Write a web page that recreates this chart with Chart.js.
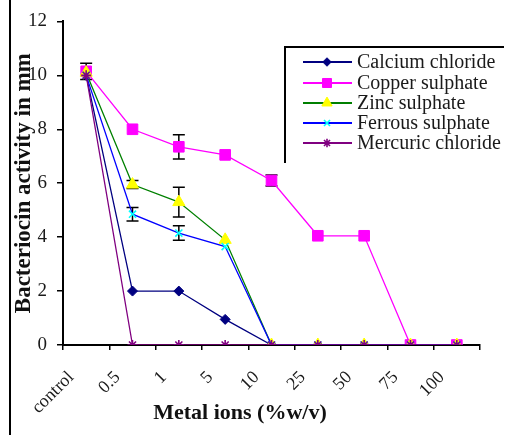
<!DOCTYPE html>
<html><head><meta charset="utf-8">
<script src="https://cdn.jsdelivr.net/npm/chart.js@4"></script>
<style>html,body{margin:0;padding:0;background:#fff;overflow:hidden}#wrap{width:509px;height:435px;position:relative}</style>
</head><body><div id="wrap"><canvas id="c" width="509" height="435"></canvas></div>
<script>
const categories = ['control', '0.5', '1', '5', '10', '25', '50', '75', '100'];
const seriesNames = ['Calcium chloride', 'Copper sulphate', 'Zinc sulphate', 'Ferrous sulphate', 'Mercuric chloride'];
const calcium  = [10.0, 2.0, 2.0, 0.95, 0, 0, 0, 0, 0];
const copper   = [10.15, 8.0, 7.35, 7.05, 6.1, 4.05, 4.05, 0, 0];
const zinc     = [10.1, 5.95, 5.3, 3.9, 0, 0, 0, 0, 0];
const ferrous  = [10.0, 4.85, 4.15, 3.65, 0, 0, 0, 0, 0];
const mercuric = [10.0, 0, 0, 0, 0, 0, 0, 0, 0];
const calciumErr  = [0, 0, 0, 0, 0, 0, 0, 0, 0];
const copperErr   = [0.3, 0, 0.45, 0, 0.2, 0, 0, 0, 0];
const zincErr     = [0, 0.15, 0.55, 0, 0, 0, 0, 0, 0];
const ferrousErr  = [0, 0.25, 0.27, 0, 0, 0, 0, 0, 0];
const mercuricErr = [0, 0, 0, 0, 0, 0, 0, 0, 0];
const yTicks = [0, 2, 4, 6, 8, 10, 12];
const xTitle = 'Metal ions (%w/v)';
const yTitle = 'Bacteriocin activity in mm';

const SERIF = "'Liberation Serif', 'DejaVu Serif', serif";
const styles = [
  {line:'#000080', fill:'#000080', stroke:'#000080', shape:'rectRot', r:5, bw:1},
  {line:'#FF00FF', fill:'#FF00FF', stroke:'#FF00FF', shape:'rect', r:7.5, bw:1},
  {line:'#008000', fill:'#FFFF00', stroke:'#FFFF00', shape:'triangle', r:7, bw:1},
  {line:'#0000FF', fill:'#00FFFF', stroke:'#00FFFF', shape:'crossRot', r:5, bw:1.6},
  {line:'#800080', fill:'#800080', stroke:'#800080', shape:'star', r:5, bw:1.6}
];
const values = [calcium, copper, zinc, ferrous, mercuric];
const errors = [calciumErr, copperErr, zincErr, ferrousErr, mercuricErr];

const datasets = values.map((v, i) => ({
  label: seriesNames[i],
  data: v,
  borderColor: styles[i].line,
  backgroundColor: styles[i].fill,
  borderWidth: 1.3,
  pointStyle: styles[i].shape,
  pointRadius: styles[i].r,
  pointBackgroundColor: styles[i].fill,
  pointBorderColor: styles[i].stroke,
  pointBorderWidth: styles[i].bw,
  tension: 0,
  order: 4 - i,
  errs: errors[i]
}));

const frame = {
  id: 'frame',
  beforeDraw(chart) {
    const ctx = chart.ctx;
    ctx.save();
    ctx.fillStyle = '#000';
    ctx.fillRect(9, 0, 2, 435);
    ctx.restore();
  }
};

const errorBars = {
  id: 'errorBars',
  beforeDatasetsDraw(chart) {
    const ctx = chart.ctx, xs = chart.scales.x, ys = chart.scales.y;
    ctx.save();
    ctx.strokeStyle = '#000';
    ctx.lineWidth = 1.5;
    chart.data.datasets.forEach(ds => {
      ds.errs.forEach((e, i) => {
        if (!e) return;
        const x = xs.getPixelForValue(i);
        const y1 = ys.getPixelForValue(ds.data[i] + e);
        const y2 = ys.getPixelForValue(ds.data[i] - e);
        ctx.beginPath();
        ctx.moveTo(x, y1); ctx.lineTo(x, y2);
        ctx.moveTo(x - 6, y1); ctx.lineTo(x + 6, y1);
        ctx.moveTo(x - 6, y2); ctx.lineTo(x + 6, y2);
        ctx.stroke();
      });
    });
    ctx.restore();
  }
};

const legendBox = {
  id: 'legendBox',
  afterDraw(chart) {
    const ctx = chart.ctx;
    ctx.save();
    ctx.strokeStyle = '#000';
    ctx.lineWidth = 2;
    ctx.beginPath();
    ctx.moveTo(285, 47); ctx.lineTo(504, 47);
    ctx.moveTo(285, 46); ctx.lineTo(285, 163);
    ctx.stroke();
    const rows = [62, 83, 103, 123, 143];
    seriesNames.forEach((name, i) => {
      const y = rows[i], s = styles[i];
      ctx.strokeStyle = s.line;
      ctx.lineWidth = 2;
      ctx.beginPath(); ctx.moveTo(303, y); ctx.lineTo(352, y); ctx.stroke();
      ctx.fillStyle = s.fill;
      ctx.strokeStyle = s.stroke;
      ctx.lineWidth = s.bw;
      Chart.helpers.drawPoint(ctx, {pointStyle: s.shape, rotation: 0, radius: s.r * 0.85, borderWidth: s.bw}, 327, y);
      ctx.fillStyle = '#1a1a1a';
      ctx.font = '20px ' + SERIF;
      ctx.textBaseline = 'middle';
      ctx.textAlign = 'left';
      ctx.fillText(name, 357, y + 1);
    });
    ctx.restore();
  }
};

new Chart(document.getElementById('c'), {
  type: 'line',
  data: { labels: categories, datasets },
  plugins: [frame, errorBars, legendBox],
  options: {
    responsive: false,
    animation: false,
    layout: { padding: { left: 0, right: 29, top: 20, bottom: 0 } },
    plugins: {
      legend: { display: false },
      tooltip: { enabled: false },
      title: {
        display: true, position: 'bottom', text: xTitle, color: '#111',
        font: { family: SERIF, size: 22, weight: 'bold' },
        padding: { top: -24, bottom: 8 }
      }
    },
    scales: {
      x: {
        type: 'category', offset: true,
        afterFit: s => { s.height = 79.6; },
        grid: { offset: true, drawOnChartArea: false, tickLength: 5, color: '#000', lineWidth: 1.5 },
        border: { color: '#000', width: 2 },
        ticks: { autoSkip: false, minRotation: 45, maxRotation: 45, labelOffset: -15, padding: 17,
                 color: '#1a1a1a', font: { family: SERIF, size: 18 } }
      },
      y: {
        min: 0, max: 12,
        afterFit: s => { s.width = 63; },
        afterBuildTicks: s => { s.ticks = yTicks.map(v => ({ value: v })); },
        grid: { drawOnChartArea: false, tickLength: 6, color: '#000', lineWidth: 1.5 },
        border: { color: '#000', width: 2 },
        ticks: { padding: 10, color: '#1a1a1a', font: { family: SERIF, size: 19 } },
        title: { display: true, text: yTitle, color: '#111', padding: { top: 10, bottom: 0 },
                 font: { family: SERIF, size: 23, weight: 'bold' } }
      }
    }
  }
});
</script></body></html>
